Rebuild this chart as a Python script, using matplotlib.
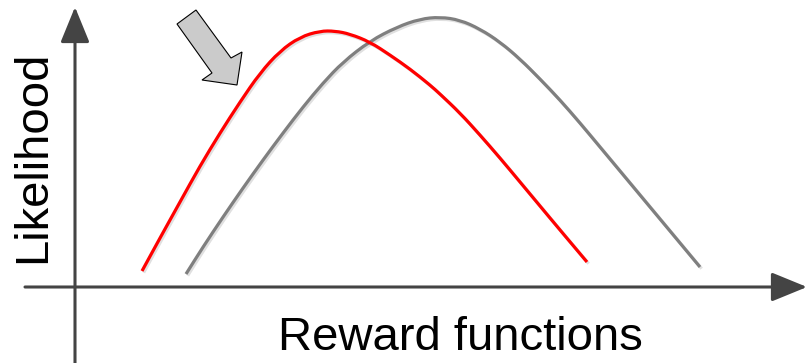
import matplotlib
matplotlib.use("Agg")
import matplotlib.pyplot as plt
import matplotlib.patheffects as pe
from matplotlib.patches import Polygon, PathPatch
from matplotlib.path import Path

# Curve samples (pixel-like units, y grows downward)
red_x = [142, 160, 180, 200, 220, 240, 260, 280, 300, 320, 335, 350, 370, 390, 410, 430, 440, 460, 480, 500, 520, 540, 560, 587]
red_y = [271, 238, 202, 166, 133, 102, 73, 51, 37, 31, 31, 34, 42, 55, 69, 85, 94, 113, 135, 158, 182, 206, 230, 262]
gray_x = [186, 203, 223, 243, 263, 283, 303, 323, 343, 370, 397, 420, 440, 460, 480, 500, 520, 540, 560, 580, 600, 620, 640, 660, 680, 700]
gray_y = [274, 247, 217, 188, 160, 133, 107, 83, 62, 41, 27, 19, 17, 20, 29, 42, 59, 79, 100, 123, 147, 171, 195, 219, 243, 267]

# Pointer arrow outline
pointer_x = [177, 196, 231, 242, 237, 202, 212]
pointer_y = [24, 10, 58, 52, 85, 80, 73]

x_label = "Reward functions"
y_label = "Likelihood"


def smooth_path(xs, ys):
    """Quadratic B-spline style path: the read points act as control points."""
    pts = list(zip(xs, ys))
    verts = [pts[0]]
    codes = [Path.MOVETO]
    mid = ((pts[0][0] + pts[1][0]) / 2, (pts[0][1] + pts[1][1]) / 2)
    verts.append(mid)
    codes.append(Path.LINETO)
    for i in range(1, len(pts) - 1):
        nxt = ((pts[i][0] + pts[i + 1][0]) / 2, (pts[i][1] + pts[i + 1][1]) / 2)
        if i == len(pts) - 2:
            nxt = pts[i + 1]
        verts += [pts[i], nxt]
        codes += [Path.CURVE3, Path.CURVE3]
    return Path(verts, codes)


fig = plt.figure(figsize=(8.08, 3.63), dpi=100)
ax = fig.add_axes([0, 0, 1, 1])
ax.set_xlim(0, 808)
ax.set_ylim(363, 0)
ax.axis("off")

shadow = [pe.SimpleLineShadow(offset=(1.2, -1.2), alpha=0.12, shadow_color="black"), pe.Normal()]

axis_col = "#444444"
arrow_kw = dict(arrowstyle="-|>,head_length=1.1,head_width=0.45", color=axis_col, lw=2.2,
                shrinkA=0, shrinkB=0, mutation_scale=20)
# y axis
ax.annotate("", xy=(75, 7), xytext=(75, 363), arrowprops=arrow_kw)
# x axis
ax.annotate("", xy=(807, 287), xytext=(25, 287), arrowprops=arrow_kw)

ax.add_patch(PathPatch(smooth_path(gray_x, gray_y), facecolor="none", edgecolor="#7f7f7f",
                       lw=2.3, capstyle="butt", path_effects=shadow))
ax.add_patch(PathPatch(smooth_path(red_x, red_y), facecolor="none", edgecolor="#ff0000",
                       lw=2.3, capstyle="butt", path_effects=shadow))

ax.add_patch(Polygon(list(zip(pointer_x, pointer_y)), closed=True, facecolor="#cbcbcb",
                     edgecolor="black", lw=0.8))

ax.text(460, 350, x_label, ha="center", va="baseline", fontsize=34, family="Liberation Sans")
ax.text(45, 157, y_label, ha="center", va="baseline", rotation=90, rotation_mode="anchor",
        fontsize=34, family="Liberation Sans")

fig.savefig("out.png", dpi=100)
